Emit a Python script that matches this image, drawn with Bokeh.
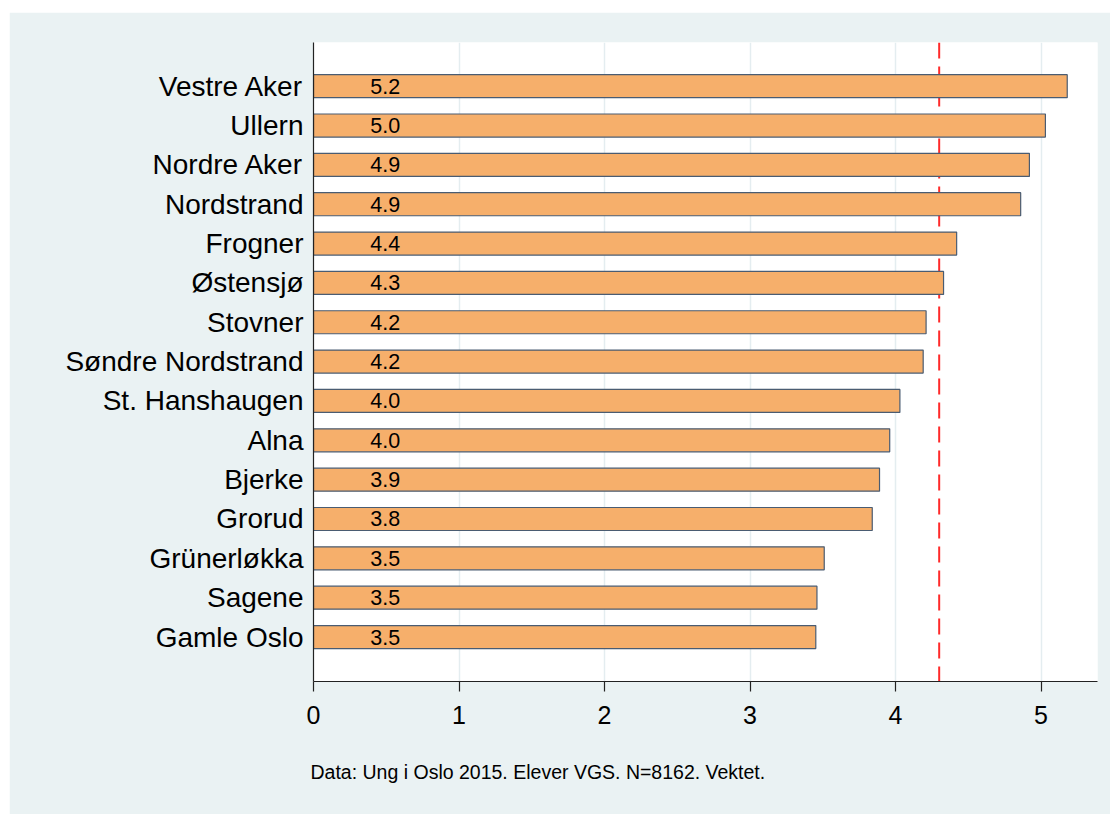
from bokeh.plotting import figure
from bokeh.models import ColumnDataSource, Span, Title, FixedTicker, Spacer
from bokeh.layouts import column, row
from bokeh.core.properties import value
from bokeh.embed import file_html
from bokeh.resources import INLINE

# ---- data (top to bottom) ----
districts = ["Vestre Aker", "Ullern", "Nordre Aker", "Nordstrand", "Frogner",
             "Østensjø", "Stovner", "Søndre Nordstrand", "St. Hanshaugen", "Alna",
             "Bjerke", "Grorud", "Grünerløkka", "Sagene", "Gamle Oslo"]
scores = [5.18, 5.03, 4.92, 4.86, 4.42, 4.33, 4.21, 4.19, 4.03, 3.96,
          3.89, 3.84, 3.51, 3.46, 3.452]
reference_value = 4.30
x_ticks = [0, 1, 2, 3, 4, 5]
caption = "Data: Ung i Oslo 2015. Elever VGS. N=8162. Vektet."

FONT = "Liberation Sans"
BG = "#EAF2F3"

n = len(districts)
ypos = [n - i for i in range(n)]
labels = [f"{v:.1f}" for v in scores]

src = ColumnDataSource(dict(y=ypos, score=scores, label=labels,
                            lx=[0.39] * n, name=districts))

p = figure(frame_width=784, frame_height=639,
           x_range=(0, 5.388), y_range=(-0.13, 16.11),
           output_backend="svg", toolbar_location=None,
           min_border_left=304, min_border_right=13,
           min_border_top=30, min_border_bottom=133)

p.background_fill_color = "white"
p.border_fill_color = BG
p.outline_line_color = None

# grid
p.ygrid.grid_line_color = None
p.xgrid.grid_line_color = "#E4EDF0"
p.xgrid.grid_line_width = 1.5
p.xgrid.ticker = FixedTicker(ticks=x_ticks)

# reference line (behind bars)
span = Span(location=reference_value, dimension="height", line_color="#FF2A2A",
            line_width=2, line_dash="16 8", level="underlay")
p.add_layout(span)

# bars
p.hbar(y="y", right="score", left=0, height=0.585, source=src,
       fill_color="#F6AF6B", line_color="#4A5C72", line_width=1.2)

# value labels
p.text(x="lx", y="y", text="label", source=src,
       text_font=value(FONT), text_font_size="21.5px",
       text_align="left", text_baseline="middle", text_color="black")

# axes
xa = p.xaxis[0]
xa.ticker = FixedTicker(ticks=x_ticks)
xa.major_label_text_font = FONT
xa.major_label_text_font_size = "25px"
xa.major_label_text_color = "black"
xa.major_tick_out = 10
xa.major_tick_in = 0
xa.minor_tick_line_color = None
xa.axis_line_color = "#222222"
xa.axis_line_width = 1.2
xa.major_tick_line_color = "#222222"
xa.major_tick_line_width = 1.2
xa.major_label_standoff = 14

ya = p.yaxis[0]
ya.ticker = FixedTicker(ticks=ypos)
ya.major_label_overrides = {y: name for y, name in zip(ypos, districts)}
ya.major_label_text_font = FONT
ya.major_label_text_font_size = "28px"
ya.major_label_text_color = "black"
ya.major_tick_out = 0
ya.major_tick_in = 0
ya.minor_tick_line_color = None
ya.axis_line_color = "#222222"
ya.axis_line_width = 1.2
ya.major_label_standoff = 10

# caption
cap = Title(text=caption, align="left", offset=-3, standoff=65,
            text_font=FONT, text_font_size="19.5px", text_font_style="normal",
            text_color="black")
p.add_layout(cap, "below")

layout = column(Spacer(height=12, width=10),
                row(Spacer(width=9, height=10), p, spacing=0),
                spacing=0)

open("out.html", "w").write(file_html(layout, INLINE))
